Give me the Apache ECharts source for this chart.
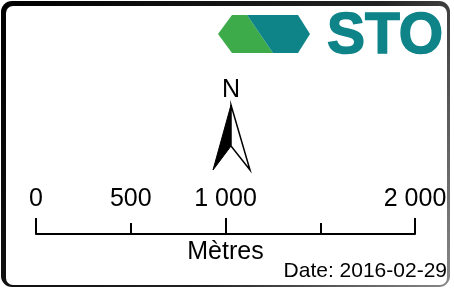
<!DOCTYPE html>
<html>
<head>
  <meta charset="UTF-8">
  <script src="https://cdnjs.cloudflare.com/ajax/libs/echarts/6.0.0/echarts.min.js"></script>
  <title></title>
  <style>
    body { margin: 0; }
    #chart { width: 454px; height: 288px; }
  </style>
</head>
<body>
  <div id="chart"></div>
  <script>
    // scale bar data (metres)
    const scaleMin = 0;
    const scaleMax = 2000;
    const minorTicks = [0, 500, 1000, 1500, 2000];
    const majorTicks = [0, 1000, 2000];
    const tickLabels = [0, 500, 1000, 2000];
    const unitName = 'Mètres';
    const dateText = 'Date: 2016-02-29';
    const logoText = 'STO';

    const font = '"Liberation Sans", Arial, sans-serif';

    function fmt(v) {
      return String(v).replace(/\B(?=(\d{3})+(?!\d))/g, ' ');
    }

    const chart = echarts.init(document.getElementById('chart'));
    chart.setOption({
      backgroundColor: '#fff',
      animation: false,
      grid: { left: 36, right: 39, top: 150, bottom: 54 },
      xAxis: [{
        type: 'value',
        position: 'bottom',
        min: scaleMin,
        max: scaleMax,
        name: unitName,
        nameLocation: 'middle',
        nameGap: 6,
        nameTextStyle: { color: '#000', fontSize: 25, fontFamily: font, verticalAlign: 'top' },
        axisLine: { show: true, lineStyle: { color: '#000', width: 2 } },
        axisTick: { show: true, inside: true, length: 11, customValues: minorTicks,
          lineStyle: { color: '#000', width: 2 } },
        axisLabel: { inside: true, margin: 22, customValues: tickLabels, formatter: fmt,
          color: '#000', fontSize: 25, fontFamily: font },
        splitLine: { show: false }
      }, {
        type: 'value',
        position: 'bottom',
        min: scaleMin,
        max: scaleMax,
        axisLine: { show: false },
        axisTick: { show: true, inside: true, length: 16, customValues: majorTicks,
          lineStyle: { color: '#000', width: 2 } },
        axisLabel: { show: false },
        splitLine: { show: false }
      }],
      yAxis: { type: 'value', min: 0, max: 1, show: false },
      series: [{
        type: 'scatter',
        symbolSize: 0,
        data: minorTicks.map(v => [v, 0]),
        silent: true
      }],
      graphic: [
        // frame
        { type: 'rect', z: -10, shape: { x: 1, y: 1, width: 449, height: 286, r: 11 },
          style: { fill: new echarts.graphic.LinearGradient(0, 0, 1, 1, [
            { offset: 0, color: '#000' }, { offset: 0.6, color: '#222' }, { offset: 1, color: '#888' }]) } },
        { type: 'rect', z: -9, shape: { x: 6, y: 6, width: 441, height: 279, r: 7 },
          style: { fill: '#fff' } },
        // logo
        { type: 'polygon', shape: { points: [[218, 34], [232, 15], [247, 15], [273, 53], [232, 53]] },
          style: { fill: '#3dab4a' } },
        { type: 'polygon', shape: { points: [[247, 15], [298, 15], [310, 34], [298, 53], [273, 53]] },
          style: { fill: '#0e8489' } },
        { type: 'text', x: 327, y: 37, style: { text: logoText, fill: '#0e8489',
          font: 'bold 57px ' + font, verticalAlign: 'middle', align: 'left',
          stroke: '#0e8489', lineWidth: 1.5 } },
        // north arrow
        { type: 'text', x: 231, y: 90, style: { text: 'N', fill: '#000',
          font: '25px ' + font, align: 'center', verticalAlign: 'middle' } },
        { type: 'polygon', shape: { points: [[231, 105], [231, 146], [213, 170]] },
          style: { fill: '#000', stroke: '#000', lineWidth: 1 } },
        { type: 'polygon', shape: { points: [[231, 105], [250, 170], [231, 146]] },
          style: { fill: '#fff', stroke: '#000', lineWidth: 1.5 } },
        // date
        { type: 'text', x: 447, y: 271, style: { text: dateText, fill: '#000',
          font: '21px ' + font, align: 'right', verticalAlign: 'middle' } }
      ]
    });
  </script>
</body>
</html>
